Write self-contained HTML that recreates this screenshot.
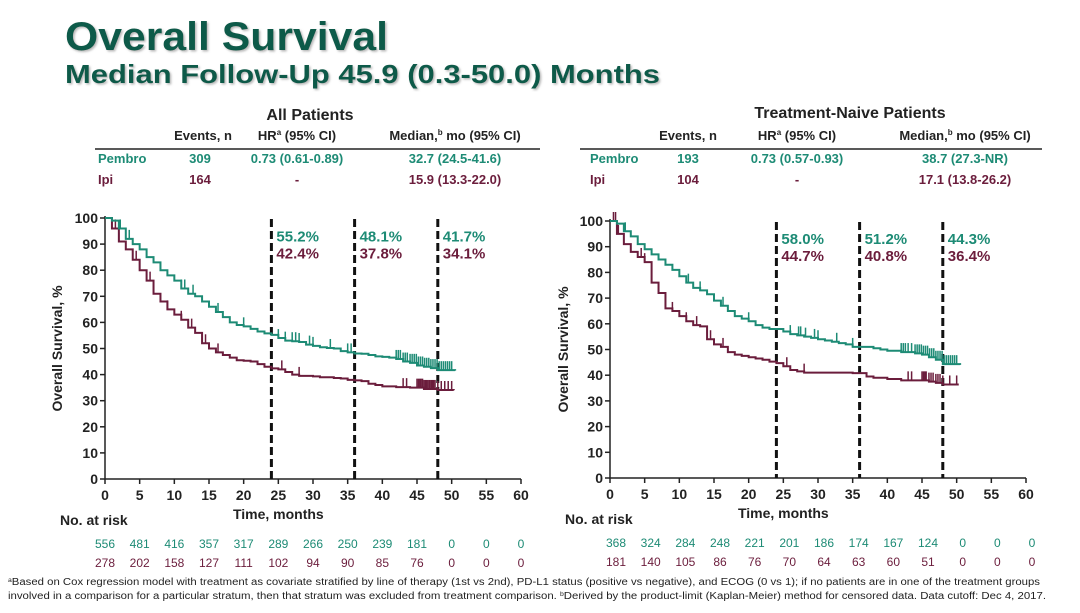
<!DOCTYPE html>
<html><head><meta charset="utf-8">
<style>
body{margin:0;width:1080px;height:608px;background:#fff;overflow:hidden;font-family:"Liberation Sans",Arial,sans-serif}
svg text{font-family:"Liberation Sans",Arial,sans-serif}
</style></head>
<body>
<svg id="s" width="1080" height="608" viewBox="0 0 1080 608">
<defs><filter id="sh"><feDropShadow dx="1.5" dy="1.5" stdDeviation="1" flood-color="#888" flood-opacity="0.6"/></filter></defs>
<text x="65" y="50" font-size="40" font-weight="bold" fill="#0e5a48" filter="url(#sh)" textLength="323" lengthAdjust="spacingAndGlyphs">Overall Survival</text>
<text x="65" y="83" font-size="26" font-weight="bold" fill="#0e5a48" filter="url(#sh)" textLength="595" lengthAdjust="spacingAndGlyphs">Median Follow-Up 45.9 (0.3-50.0) Months</text>

<g font-weight="bold" font-size="13">
<text x="310" y="120" font-size="16" text-anchor="middle" fill="#222">All Patients</text>
<text x="203" y="140" text-anchor="middle" fill="#222">Events, n</text>
<text x="297" y="140" text-anchor="middle" fill="#222">HR<tspan font-size="8" dy="-5">a</tspan><tspan dy="5"> (95% CI)</tspan></text>
<text x="455" y="140" text-anchor="middle" fill="#222">Median,<tspan font-size="8" dy="-5">b</tspan><tspan dy="5"> mo (95% CI)</tspan></text>
<line x1="95" y1="149" x2="540" y2="149" stroke="#222" stroke-width="1.5"/>
<text x="98" y="163" fill="#1d8b75">Pembro</text>
<text x="200" y="163" text-anchor="middle" fill="#1d8b75">309</text>
<text x="297" y="163" text-anchor="middle" fill="#1d8b75">0.73 (0.61-0.89)</text>
<text x="455" y="163" text-anchor="middle" fill="#1d8b75">32.7 (24.5-41.6)</text>
<text x="98" y="184" fill="#6b1d3c">Ipi</text>
<text x="200" y="184" text-anchor="middle" fill="#6b1d3c">164</text>
<text x="297" y="184" text-anchor="middle" fill="#6b1d3c">-</text>
<text x="455" y="184" text-anchor="middle" fill="#6b1d3c">15.9 (13.3-22.0)</text>
</g>
<g font-weight="bold" font-size="13">
<text x="850" y="118" font-size="16" text-anchor="middle" fill="#222">Treatment-Naive Patients</text>
<text x="688" y="140" text-anchor="middle" fill="#222">Events, n</text>
<text x="797" y="140" text-anchor="middle" fill="#222">HR<tspan font-size="8" dy="-5">a</tspan><tspan dy="5"> (95% CI)</tspan></text>
<text x="965" y="140" text-anchor="middle" fill="#222">Median,<tspan font-size="8" dy="-5">b</tspan><tspan dy="5"> mo (95% CI)</tspan></text>
<line x1="580" y1="149" x2="1042" y2="149" stroke="#222" stroke-width="1.5"/>
<text x="590" y="163" fill="#1d8b75">Pembro</text>
<text x="688" y="163" text-anchor="middle" fill="#1d8b75">193</text>
<text x="797" y="163" text-anchor="middle" fill="#1d8b75">0.73 (0.57-0.93)</text>
<text x="965" y="163" text-anchor="middle" fill="#1d8b75">38.7 (27.3-NR)</text>
<text x="590" y="184" fill="#6b1d3c">Ipi</text>
<text x="688" y="184" text-anchor="middle" fill="#6b1d3c">104</text>
<text x="797" y="184" text-anchor="middle" fill="#6b1d3c">-</text>
<text x="965" y="184" text-anchor="middle" fill="#6b1d3c">17.1 (13.8-26.2)</text>
</g>

<text x="8" y="585" font-size="10" fill="#222" textLength="1032" lengthAdjust="spacingAndGlyphs"><tspan font-size="6" dy="-3">a</tspan><tspan dy="3">Based on Cox regression model with treatment as covariate stratified by line of therapy (1st vs 2nd), PD-L1 status (positive vs negative), and ECOG (0 vs 1); if no patients are in one of the treatment groups</tspan></text>
<text x="8" y="599" font-size="10" fill="#222" textLength="1038" lengthAdjust="spacingAndGlyphs">involved in a comparison for a particular stratum, then that stratum was excluded from treatment comparison. <tspan font-size="6" dy="-3">b</tspan><tspan dy="3">Derived by the product-limit (Kaplan-Meier) method for censored data. Data cutoff: Dec 4, 2017.</tspan></text>
</svg>
<script>
const xTicks=[0,5,10,15,20,25,30,35,40,45,50,55,60];
const yTicks=[0,10,20,30,40,50,60,70,80,90,100];
const landmarks=[24,36,48];
// All patients
const A_pemT=[0,1,2,3,4,5,6,7,8,9,10,11,12,13,14,15,16,17,18,19,20,21,22,23,24,25,26,27,28,29,30,31,32,33,34,35,36,37,38,39,40,41,42,43,44,45,46,47,48,50.5];
const A_pemS=[100,99,96,92,90,88,85,83,80,78,76,73,71,70,68,66,64,62,60,59,58.5,57.5,56.5,55.8,55.2,54,53,52.8,52.5,51.5,51,50.5,50.2,50,49,48.5,48.1,48,47.5,47,46.8,46.5,46,45,44.5,43.5,43,42.5,41.7,41.5];
const A_ipiT=[0,1,2,3,4,5,6,7,8,9,10,11,12,13,14,15,16,17,18,19,20,21,22,23,24,25,26,27,28,30,31,33,34,35,36,37,38,39,40,42,44,46,48,50.3];
const A_ipiS=[100,96,91,88,84,80,76,71,68,65,63,61,58,56,52,50,48.5,47.5,46.5,45.5,45.3,45,44,43,42.4,42,41,40,39.5,39.3,39,38.7,38.5,38,37.8,37.5,36.5,36,35.5,35.2,35,34.5,34.1,34];
const A_pemCens=[2.2,3.5,11,11.5,12.7,16.3,20,25,26,27,27.5,28,29.5,30,32.5,35,35.5,42,42.3,42.6,43,43.3,43.6,44,44.3,44.6,44.9,45.2,45.5,45.8,46.1,46.4,46.7,47,47.3,47.6,47.9,48.2,48.5,48.8,49.1,49.4,49.7,50];
const A_ipiCens=[1,1.5,2,4.5,5,6.5,9,11,12.5,14.5,16.3,25.5,28,43,43.5,45,45.2,45.4,45.6,45.8,46,46.2,46.4,46.6,46.8,47,47.2,47.4,47.6,48,48.5,49,49.5,50];
const A_labP=["55.2%","48.1%","41.7%"];
const A_labI=["42.4%","37.8%","34.1%"];
const A_riskP=[556,481,416,357,317,289,266,250,239,181,0,0,0];
const A_riskI=[278,202,158,127,111,102,94,90,85,76,0,0,0];
// Treatment-naive
const B_pemT=[0,1,2,3,4,5,6,7,8,9,10,11,12,13,14,15,16,17,18,19,20,21,22,23,25,26,27,28,29,30,31,32,33,34,35,37,38,39,40,42,44,45,46,47,48,50.5];
const B_pemS=[100,99,96,94,91,89,87,85,83,81,78.5,76,74,73,71.5,69,67,65,63,62,61,59.5,58.5,58,57,56,55.5,55,54.5,54,53.5,53,52.5,52,51,51,50.5,50,49.5,49,48.5,48,47,46,44.3,44];
const B_ipiT=[0,1,2,3,4,5,6,7,8,9,10,11,12,13,14,15,16,17,18,19,20,21,22,23,24,25,26,27,28,35,37,38,40,42,46,47,48,50.3];
const B_ipiS=[100,95,91,88,86,84,76,72,66,65,63,61,59.5,59,54,52,51,49,48,47.5,47,46.5,46,45.3,44.7,43.5,42,41.5,41,40.8,39.5,39,38.5,38,37.5,37,36.4,36.4];
const B_pemCens=[2.2,11.3,13,16.3,20,26,27.2,27.5,28.2,29.5,30,32.7,35,42,42.3,42.6,43,43.5,44,44.3,44.6,44.9,45.2,45.5,45.8,46.1,46.4,46.7,47,47.3,47.6,47.9,48.2,48.5,48.8,49.1,49.4,49.7,50];
const B_ipiCens=[0.5,0.8,1.2,4.5,5,9,11,12.5,14.5,16.3,25.5,28,43,43.5,45,45.2,45.4,45.6,46,46.3,46.6,47,47.3,47.6,48,49,50];
const B_labP=["58.0%","51.2%","44.3%"];
const B_labI=["44.7%","40.8%","36.4%"];
const B_riskP=[368,324,284,248,221,201,186,174,167,124,0,0,0];
const B_riskI=[181,140,105,86,76,70,64,63,60,51,0,0,0];

const NS="http://www.w3.org/2000/svg";
const svg=document.getElementById('s');
function mk(tag,attrs,parent,txt){const e=document.createElementNS(NS,tag);for(const k in attrs)e.setAttribute(k,attrs[k]);if(txt!==undefined)e.textContent=txt;(parent||svg).appendChild(e);return e;}
const TEAL="#1d8b75",MAR="#6b1d3c";

function panel(key,x0,x1,y100,y0,pT,pS,iT,iS,pC,iC,labP,labI,rP,rI,riskOff,ytX){
  const X=v=>x0+(x1-x0)*v/60, Y=v=>y0-(y0-y100)*v/100;
  const g=mk('g',{});
  
  
  const ax=mk('path',{d:`M${X(0)} ${Y(100)-2}V${Y(0)}H${X(60)}`,stroke:'#222','stroke-width':1.5,fill:'none'},g);
  
  
  yTicks.forEach(v=>{
    mk('line',{x1:X(0)-5,x2:X(0),y1:Y(v),y2:Y(v),stroke:'#222','stroke-width':1.5},g);
    const t=mk('text',{x:X(0)-7,y:Y(v)+5,'font-size':14,'font-weight':'bold','text-anchor':'end',fill:'#222'},g,v);
    
    
  });
  xTicks.forEach(v=>{
    mk('line',{x1:X(v),x2:X(v),y1:Y(0),y2:Y(0)+5,stroke:'#222','stroke-width':1.5},g);
    const t=mk('text',{x:X(v),y:Y(0)+21,'font-size':14,'font-weight':'bold','text-anchor':'middle',fill:'#222'},g,v);
    
    
  });
  const yt=mk('text',{transform:`translate(${ytX},${Y(50)}) rotate(-90)`,'font-size':14,'font-weight':'bold','text-anchor':'middle',fill:'#222'},g,'Overall Survival, %');
  
  
  const xt=mk('text',{x:X(25),y:Y(0)+40,'font-size':14,'font-weight':'bold','text-anchor':'middle',fill:'#222'},g,'Time, months');
  
  
  const nr=mk('text',{x:X(0)-45,y:Y(0)+46,'font-size':14,'font-weight':'bold',fill:'#222'},g,'No. at risk');
  
  
  rP.forEach((v,i)=>{
    const t=mk('text',{x:X(xTicks[i])+riskOff,y:Y(0)+69,'font-size':12,'text-anchor':'middle',fill:TEAL},g,v);
    
    
  });
  rI.forEach((v,i)=>{
    const t=mk('text',{x:X(xTicks[i])+riskOff,y:Y(0)+88,'font-size':12,'text-anchor':'middle',fill:MAR},g,v);
    
    
  });
  landmarks.forEach((m,i)=>{
    const l=mk('line',{x1:X(m),x2:X(m),y1:Y(100)+1,y2:Y(0),stroke:'#111','stroke-width':3,'stroke-dasharray':'8 4'},g);
    
    
    const a=mk('text',{x:X(m)+5,y:Y(91),'font-size':15,'font-weight':'bold',fill:TEAL},g,labP[i]);
    
    
    const b=mk('text',{x:X(m)+5,y:Y(84.5),'font-size':15,'font-weight':'bold',fill:MAR},g,labI[i]);
    
    
  });
  function curve(T,S,C,col,name){
    let d=`M${X(T[0])} ${Y(S[0])}`;
    for(let i=1;i<T.length;i++){d+=`H${X(T[i])}V${Y(S[i])}`;}
    const p=mk('path',{d,stroke:col,'stroke-width':2,fill:'none'},g);
    
    
    const sAt=t=>{let s=S[0];for(let i=0;i<T.length;i++){if(T[i]<=t)s=S[i];}return s;};
    C.forEach(c=>{
      const s=sAt(c);
      const m=mk('line',{x1:X(c),x2:X(c),y1:Y(s),y2:Y(s)-9,stroke:col,'stroke-width':1.5},g);
      
      
    });
  }
  curve(iT,iS,iC,MAR,'ipi');
  curve(pT,pS,pC,TEAL,'pembro');
}
panel('all-patients',105,521,218,479,A_pemT,A_pemS,A_ipiT,A_ipiS,A_pemCens,A_ipiCens,A_labP,A_labI,A_riskP,A_riskI,0,62);
panel('treatment-naive',610,1026,221,478,B_pemT,B_pemS,B_ipiT,B_ipiS,B_pemCens,B_ipiCens,B_labP,B_labI,B_riskP,B_riskI,6,568);
</script>
</body></html>
